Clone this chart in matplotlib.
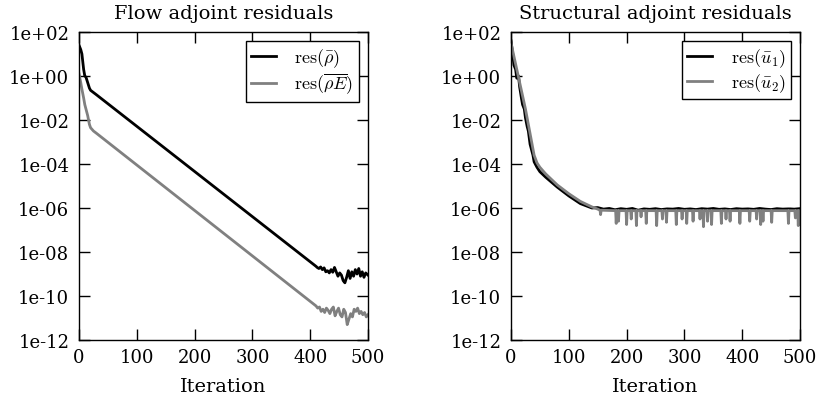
import numpy as np
import matplotlib
matplotlib.use("Agg")
import matplotlib.pyplot as plt
from matplotlib.ticker import FuncFormatter

plt.rcParams["font.family"] = ["DejaVu Serif"]
plt.rcParams["mathtext.fontset"] = "cm"

# 流體伴隨殘差 (log10 值)
flow_it_rho = [0, 3, 5, 8, 10, 12, 15, 18, 20, 25, 30, 410,
               412, 415, 418, 421, 424, 427, 430, 433, 436, 439, 442, 445, 448, 451,
               454, 457, 460, 463, 466, 469, 472, 475, 478, 481, 484, 487, 490, 493, 496, 500]
flow_rho = [1.4, 1.2, 1.0, 0.3, 0.0, -0.05, -0.3, -0.55, -0.65, -0.75, -0.85, -8.65,
            -8.7, -8.75, -8.68, -8.8, -8.72, -8.9, -8.85, -8.95, -8.8, -8.92, -8.7, -8.9, -9.1, -8.95,
            -9.05, -9.3, -9.4, -9.15, -8.85, -9.2, -8.9, -9.1, -8.8, -9.0, -8.75, -9.1, -8.9, -9.15, -8.95, -9.05]

flow_it_rhoE = [0, 3, 5, 8, 10, 13, 15, 18, 20, 25, 30, 410,
                413, 416, 419, 422, 425, 428, 431, 434, 437, 440, 443, 446, 449, 452,
                455, 458, 461, 464, 467, 470, 473, 476, 479, 482, 485, 488, 491, 494, 497, 500]
flow_rhoE = [0.1, -0.3, -0.6, -1.0, -1.3, -1.6, -1.8, -2.2, -2.35, -2.5, -2.6, -10.45,
             -10.55, -10.5, -10.7, -10.6, -10.75, -10.55, -10.65, -10.8, -10.6, -10.5, -10.9, -10.7, -10.55, -10.85,
             -10.95, -10.6, -10.75, -11.3, -11.05, -10.8, -10.95, -10.6, -10.7, -10.55, -10.8, -10.7, -10.85, -10.75, -10.95, -10.85]

# 結構伴隨殘差 (log10 值)
struct_it_u1 = [0, 3, 5, 8, 10, 13, 15, 18, 20, 23, 25, 28, 30, 33, 35, 38, 40, 45, 50, 60, 80, 100, 120, 140,
                150, 160, 170, 180, 190, 200, 210, 220, 230, 240, 250, 260, 270, 280, 290, 300,
                310, 320, 330, 340, 350, 360, 370, 380, 390, 400, 410, 420, 430, 440, 450, 460,
                470, 480, 490, 500]
struct_u1 = [1.6, 1.0, 0.5, 0.3, -0.1, 0.0, -0.5, -1.0, -1.3, -1.5, -1.9, -2.3, -2.5, -3.1, -3.3, -3.6, -3.9,
             -4.15, -4.35, -4.6, -5.05, -5.45, -5.8, -6.0,
             -5.98, -6.05, -6.02, -6.08, -6.03, -6.06, -6.02, -6.1, -6.04, -6.06, -6.03, -6.07, -6.04, -6.05,
             -6.02, -6.06, -6.04, -6.07, -6.03, -6.05, -6.02, -6.06, -6.04, -6.07, -6.03, -6.05, -6.04, -6.06,
             -6.02, -6.05, -6.07, -6.03, -6.05, -6.04, -6.06, -6.03]

struct_it_u2 = [0, 5, 10, 15, 20, 25, 30, 35, 40, 45, 50, 60, 80, 100, 120, 140, 150,
                154, 155, 156, 181, 182, 183, 185, 186, 187, 199, 200, 201, 207, 208, 209,
                216, 217, 218, 224, 225, 226, 233, 234, 235, 251, 252, 253, 261, 262, 263,
                268, 269, 270, 285, 286, 287, 295, 296, 297, 303, 304, 305, 314, 315, 316,
                326, 327, 328, 332, 333, 334, 339, 340, 341, 346, 347, 348, 363, 364, 365,
                371, 372, 373, 378, 379, 380, 395, 396, 397, 412, 413, 414, 424, 425, 426,
                431, 432, 433, 435, 436, 437, 450, 451, 452, 479, 480, 481, 491, 492, 493,
                496, 497, 498, 500]
struct_u2 = [1.5, 0.9, 0.3, -0.3, -0.9, -1.5, -2.2, -2.9, -3.6, -3.95, -4.15, -4.45, -4.95, -5.35, -5.7, -5.95, -6.05,
             -6.1, -6.3, -6.1, -6.12, -6.7, -6.12, -6.12, -6.6, -6.12, -6.12, -6.75, -6.12, -6.12, -6.5, -6.12,
             -6.12, -6.8, -6.12, -6.12, -6.4, -6.12, -6.12, -6.7, -6.12, -6.12, -6.8, -6.12, -6.12, -6.5, -6.12,
             -6.12, -6.65, -6.12, -6.12, -6.75, -6.12, -6.12, -6.5, -6.12, -6.12, -6.7, -6.12, -6.12, -6.6, -6.12,
             -6.12, -6.5, -6.12, -6.12, -6.85, -6.12, -6.12, -6.6, -6.12, -6.12, -6.75, -6.12, -6.12, -6.7, -6.12,
             -6.12, -6.5, -6.12, -6.12, -6.6, -6.12, -6.12, -6.7, -6.12, -6.12, -6.6, -6.12, -6.12, -6.5, -6.12,
             -6.12, -6.75, -6.12, -6.12, -6.6, -6.12, -6.12, -6.65, -6.12, -6.12, -6.7, -6.12, -6.12, -6.45, -6.12,
             -6.12, -6.8, -6.12, -6.12]

y_ticks = [1e2, 1e0, 1e-2, 1e-4, 1e-6, 1e-8, 1e-10, 1e-12]
x_ticks = [0, 100, 200, 300, 400, 500]

fig = plt.figure(figsize=(8.18, 4.02), dpi=100)
ax1 = fig.add_axes([0.0966, 0.1517, 0.3533, 0.7662])
ax2 = fig.add_axes([0.6247, 0.1517, 0.3533, 0.7662])

panels = [
    (ax1, "Flow adjoint residuals",
     [(flow_it_rho, flow_rho, "black", r"$\mathrm{res}(\bar{\rho})$"),
      (flow_it_rhoE, flow_rhoE, "#808080", r"$\mathrm{res}(\overline{\rho E})$")]),
    (ax2, "Structural adjoint residuals",
     [(struct_it_u1, struct_u1, "black", r"$\mathrm{res}(\bar{u}_1)$"),
      (struct_it_u2, struct_u2, "#808080", r"$\mathrm{res}(\bar{u}_2)$")]),
]

for ax, title, series in panels:
    for it, vals, col, lab in series:
        ax.plot(it, 10.0 ** np.array(vals), color=col, lw=2, label=lab)
    ax.set_yscale("log")
    ax.set_xlim(0, 500)
    ax.set_ylim(1e-12, 1e2)
    ax.set_yticks(y_ticks)
    ax.set_xticks(x_ticks)
    ax.minorticks_off()
    ax.yaxis.set_major_formatter(FuncFormatter(lambda v, p: f"{v:.0e}"))
    ax.tick_params(direction="in", length=8, width=1, top=True, right=True, labelsize=13)
    ax.tick_params(axis="x", pad=6)
    ax.tick_params(axis="y", pad=7)
    for s in ax.spines.values():
        s.set_linewidth(1)
    ax.set_title(title, fontsize=14, pad=10)
    ax.set_xlabel("Iteration", fontsize=14, labelpad=8)
    leg = ax.legend(loc="upper right", fontsize=13, fancybox=False, framealpha=1,
                    handlelength=1.4, handletextpad=1.0, labelspacing=0.1, borderpad=0.3)
    leg.get_frame().set_edgecolor("black")
    leg.get_frame().set_linewidth(1)

fig.savefig("out.png", dpi=100)
